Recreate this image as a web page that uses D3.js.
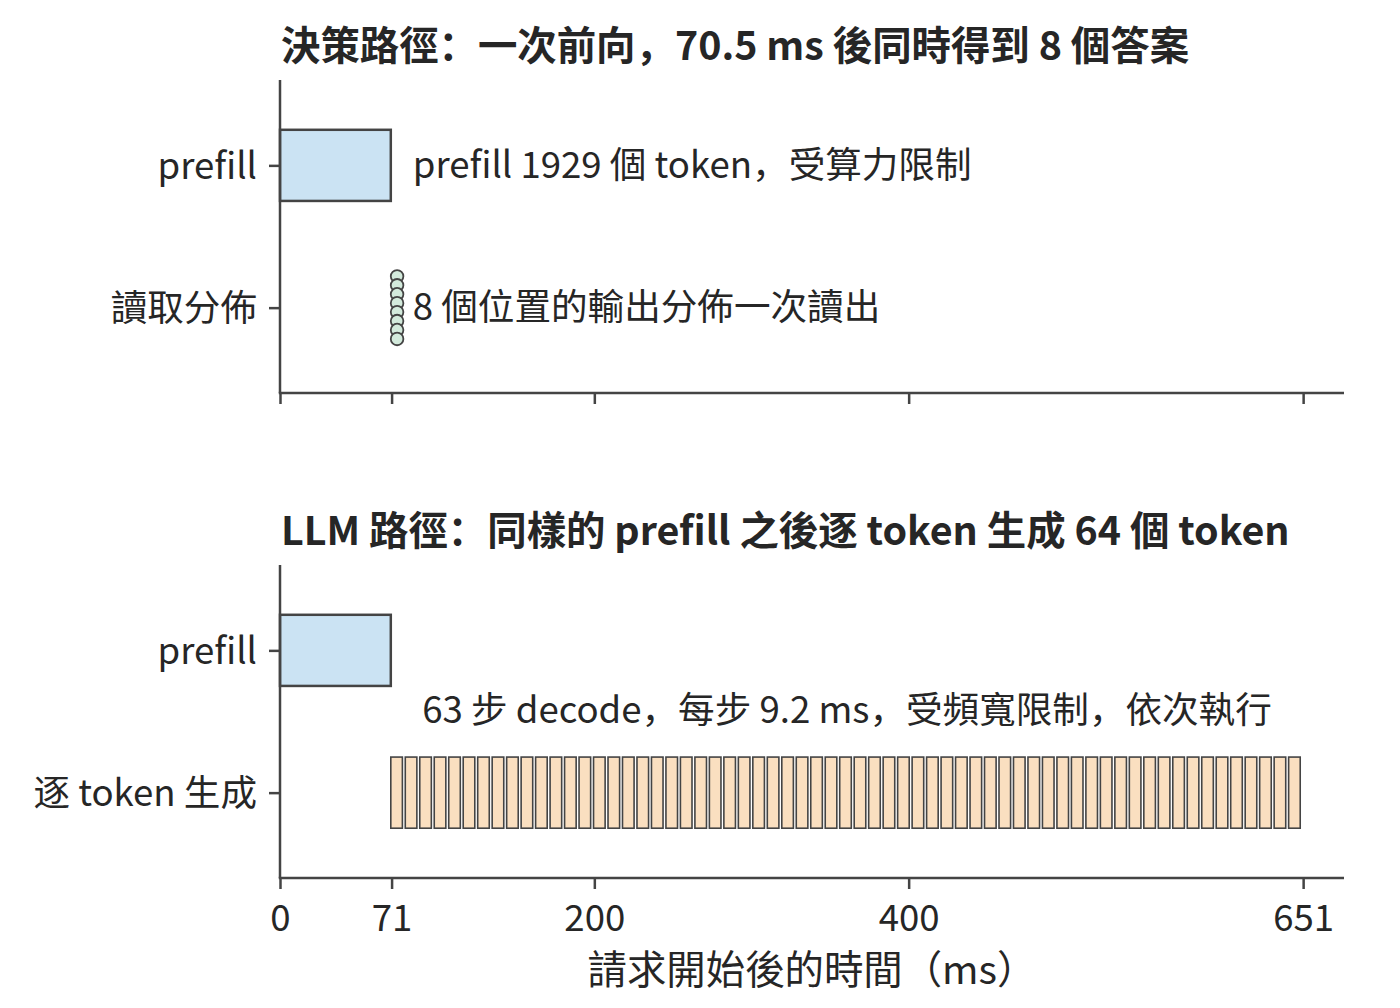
<!DOCTYPE html>
<html>
<head>
<meta charset="utf-8">
<script src="https://cdn.jsdelivr.net/npm/d3@7"></script>
<style>
  body { margin: 0; background: #fff; }
  svg { font-family: "Noto Sans CJK SC", "Noto Sans CJK TC", sans-serif; }
  .tick text { fill: #262626; }
</style>
</head>
<body>
<svg width="1400" height="1008"></svg>
<script>
// chart values
const xTicks = [0, 71, 200, 400, 651];
const xMax = 677;
const prefillMs = 70.5;
const decodeSteps = 63;
const decodeStepMs = 9.214;
const answers = [1, 2, 3, 4, 5, 6, 7, 8];
const answerMs = 74.5;

const panels = [
  {
    title: '決策路徑：一次前向，70.5 ms 後同時得到 8 個答案',
    rows: ['prefill', '讀取分佈'],
    notes: ['prefill 1929 個 token，受算力限制', '8 個位置的輸出分佈一次讀出']
  },
  {
    title: 'LLM 路徑：同樣的 prefill 之後逐 token 生成 64 個 token',
    rows: ['prefill', '逐 token 生成'],
    notes: ['63 步 decode，每步 9.2 ms，受頻寬限制，依次執行']
  }
];
const xLabel = '請求開始後的時間（ms）';

const svg = d3.select('svg');
const ink = '#444';
const text = '#262626';
const labelSize = 36.6;
const left = 280, right = 1344;
const panelTops = [80, 565];
const panelHeight = 313;

const x = d3.scaleLinear().domain([0, xMax]).range([left, right]);

panels.forEach((p, i) => {
  const top = panelTops[i];
  const y = d3.scaleLinear().domain([-0.6, 1.6]).range([top, top + panelHeight]);
  const g = svg.append('g');

  // title
  g.append('text')
    .text(p.title)
    .attr('x', left + 1)
    .attr('y', top - 20)
    .attr('font-size', 39.4)
    .attr('font-weight', 'bold')
    .attr('fill', text);

  // prefill bar
  g.append('rect')
    .attr('x', x(0))
    .attr('y', y(-0.25))
    .attr('width', x(prefillMs) - x(0))
    .attr('height', y(0.25) - y(-0.25))
    .attr('fill', '#cbe3f3')
    .attr('stroke', ink)
    .attr('stroke-width', 2.5);

  if (i === 0) {
    g.append('text')
      .text(p.notes[0])
      .attr('x', x(prefillMs + 14))
      .attr('y', y(0))
      .attr('dy', '0.35em')
      .attr('font-size', labelSize)
      .attr('fill', text);

    const dotY = d3.scalePoint().domain(answers).range([-0.22, 0.22]);
    g.selectAll('circle')
      .data(answers)
      .enter()
      .append('circle')
      .attr('cx', x(answerMs))
      .attr('cy', d => y(1 + dotY(d)))
      .attr('r', 6.3)
      .attr('fill', '#d3eadc')
      .attr('stroke', ink)
      .attr('stroke-width', 1.8);

    g.append('text')
      .text(p.notes[1])
      .attr('x', x(prefillMs + 14))
      .attr('y', y(1))
      .attr('dy', '0.35em')
      .attr('font-size', labelSize)
      .attr('fill', text);
  } else {
    const steps = d3.range(decodeSteps);
    g.selectAll('rect.step')
      .data(steps)
      .enter()
      .append('rect')
      .attr('class', 'step')
      .attr('x', d => x(prefillMs + d * decodeStepMs))
      .attr('y', y(0.75))
      .attr('width', x(decodeStepMs * 0.8) - x(0))
      .attr('height', y(1.25) - y(0.75))
      .attr('fill', '#fadfc0')
      .attr('stroke', ink)
      .attr('stroke-width', 1.6);

    g.append('text')
      .text(p.notes[0])
      .attr('x', x((prefillMs + xTicks[4]) / 2))
      .attr('y', y(0.42))
      .attr('dy', '0.35em')
      .attr('text-anchor', 'middle')
      .attr('font-size', labelSize)
      .attr('fill', text);
  }

  // y axis
  const yAxis = d3.axisLeft(y)
    .tickValues([0, 1])
    .tickFormat(d => p.rows[d])
    .tickSize(11)
    .tickPadding(12);
  const yAxisG = g.append('g')
    .attr('transform', `translate(${left},0)`)
    .call(yAxis)
    .attr('font-family', null)
    .attr('font-size', labelSize);
  yAxisG.selectAll('.domain').remove();
  yAxisG.selectAll('.tick line').attr('stroke', ink).attr('stroke-width', 2.5);
  yAxisG.selectAll('.tick text').attr('dy', '0.36em');

  // x axis
  const xAxis = d3.axisBottom(x)
    .tickValues(xTicks)
    .tickSize(11)
    .tickPadding(16)
    .tickFormat(i === 1 ? d3.format('d') : '');
  const xAxisG = g.append('g')
    .attr('transform', `translate(0,${top + panelHeight})`)
    .call(xAxis)
    .attr('font-family', null)
    .attr('font-size', labelSize);
  xAxisG.selectAll('.domain').remove();
  xAxisG.selectAll('.tick line').attr('stroke', ink).attr('stroke-width', 2.5);

  // spines
  g.append('line')
    .attr('x1', left).attr('x2', left)
    .attr('y1', top).attr('y2', top + panelHeight)
    .attr('stroke', ink).attr('stroke-width', 2.5);
  g.append('line')
    .attr('x1', left - 1.25).attr('x2', right)
    .attr('y1', top + panelHeight).attr('y2', top + panelHeight)
    .attr('stroke', ink).attr('stroke-width', 2.5);
});

svg.append('text')
  .text(xLabel)
  .attr('x', (left + right) / 2)
  .attr('y', 984)
  .attr('text-anchor', 'middle')
  .attr('font-size', 39.4)
  .attr('fill', text);
</script>
</body>
</html>
